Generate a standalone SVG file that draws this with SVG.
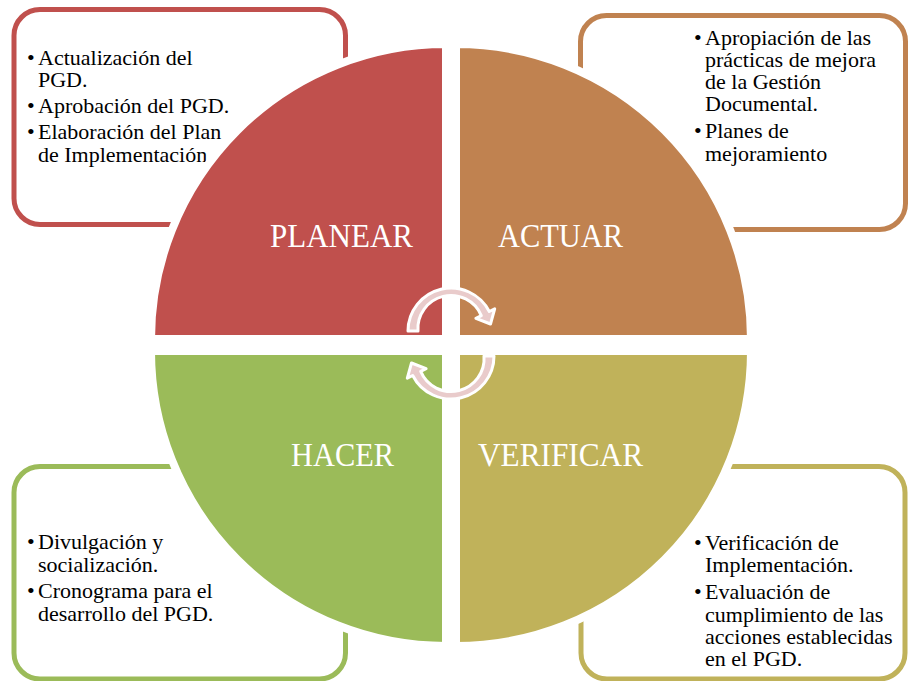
<svg xmlns="http://www.w3.org/2000/svg" width="908" height="681" viewBox="0 0 908 681">
<style>
.box{fill:#FFFFFF;stroke-width:5}
.t{font-family:"Liberation Serif","Times New Roman",serif;font-size:22px;fill:#000000}
.q{stroke:#FFFFFF;stroke-width:8;stroke-linejoin:miter}
.lbl{font-family:"Liberation Serif","Times New Roman",serif;font-size:34px;fill:#FFFFFF}
.arw{fill:#E9CBCB;stroke:#FFFFFF;stroke-width:3;stroke-linejoin:round}
</style>
<rect width="908" height="681" fill="#FFFFFF"/>
<g id="box-planear">
<rect class="box" x="14" y="9.5" width="331.5" height="215" rx="26" stroke="#C0504D"/>
<text class="t" x="27" y="65">•</text>
<text class="t" x="38" y="65">Actualización del</text>
<text class="t" x="38" y="87">PGD.</text>
<text class="t" x="27" y="113">•</text>
<text class="t" x="38" y="113">Aprobación del PGD.</text>
<text class="t" x="27" y="139">•</text>
<text class="t" x="38" y="139">Elaboración del Plan</text>
<text class="t" x="38" y="162">de Implementación</text>
</g>
<g id="box-actuar">
<rect class="box" x="580.5" y="15.5" width="325" height="214" rx="26" stroke="#C08250"/>
<text class="t" x="694" y="45">•</text>
<text class="t" x="705" y="45">Apropiación de las</text>
<text class="t" x="705" y="67">prácticas de mejora</text>
<text class="t" x="705" y="89">de la Gestión</text>
<text class="t" x="705" y="111">Documental.</text>
<text class="t" x="694" y="138">•</text>
<text class="t" x="705" y="138">Planes de</text>
<text class="t" x="705" y="161">mejoramiento</text>
</g>
<g id="box-hacer">
<rect class="box" x="14" y="466.5" width="331.5" height="212.5" rx="26" stroke="#9BBB59"/>
<text class="t" x="27" y="549">•</text>
<text class="t" x="38" y="549">Divulgación y</text>
<text class="t" x="38" y="572">socialización.</text>
<text class="t" x="27" y="598">•</text>
<text class="t" x="38" y="598">Cronograma para el</text>
<text class="t" x="38" y="621">desarrollo del PGD.</text>
</g>
<g id="box-verificar">
<rect class="box" x="581" y="466.5" width="324" height="212.5" rx="26" stroke="#C0B25A"/>
<text class="t" x="694" y="550">•</text>
<text class="t" x="705" y="550">Verificación de</text>
<text class="t" x="705" y="572">Implementación.</text>
<text class="t" x="694" y="599">•</text>
<text class="t" x="705" y="599">Evaluación de</text>
<text class="t" x="705" y="622">cumplimiento de las</text>
<text class="t" x="705" y="644">acciones establecidas</text>
<text class="t" x="705" y="666">en el PGD.</text>
</g>
<g id="planear">
<path class="q" fill="#C0504D" d="M446,339 L151,339 A295,295 0 0 1 446,44 Z"/>
<text class="lbl" x="270" y="247" textLength="143" lengthAdjust="spacingAndGlyphs">PLANEAR</text>
</g>
<g id="actuar">
<path class="q" fill="#C08250" d="M456,339 L456,44 A295,295 0 0 1 751,339 Z"/>
<text class="lbl" x="498" y="247" textLength="125" lengthAdjust="spacingAndGlyphs">ACTUAR</text>
</g>
<g id="verificar">
<path class="q" fill="#C0B25A" d="M456,351 L751,351 A295,295 0 0 1 456,646 Z"/>
<text class="lbl" x="478" y="466" textLength="165" lengthAdjust="spacingAndGlyphs">VERIFICAR</text>
</g>
<g id="hacer">
<path class="q" fill="#9BBB59" d="M446,351 L446,646 A295,295 0 0 1 151,351 Z"/>
<text class="lbl" x="291" y="466" textLength="103" lengthAdjust="spacingAndGlyphs">HACER</text>
</g>
<g id="connectors">
<path id="arrow-top" class="arw" d="M408,331 A43,43 0 0 1 489.3,311.5 L494.7,308.8 L490.5,324 L475.9,318.3 L481.3,315.6 A33,33 0 0 0 418,331 Z"/>
<path id="arrow-bottom" class="arw" transform="rotate(180 451 343.5)" d="M408,331 A43,43 0 0 1 489.3,311.5 L494.7,308.8 L490.5,324 L475.9,318.3 L481.3,315.6 A33,33 0 0 0 418,331 Z"/>
</g>
</svg>
